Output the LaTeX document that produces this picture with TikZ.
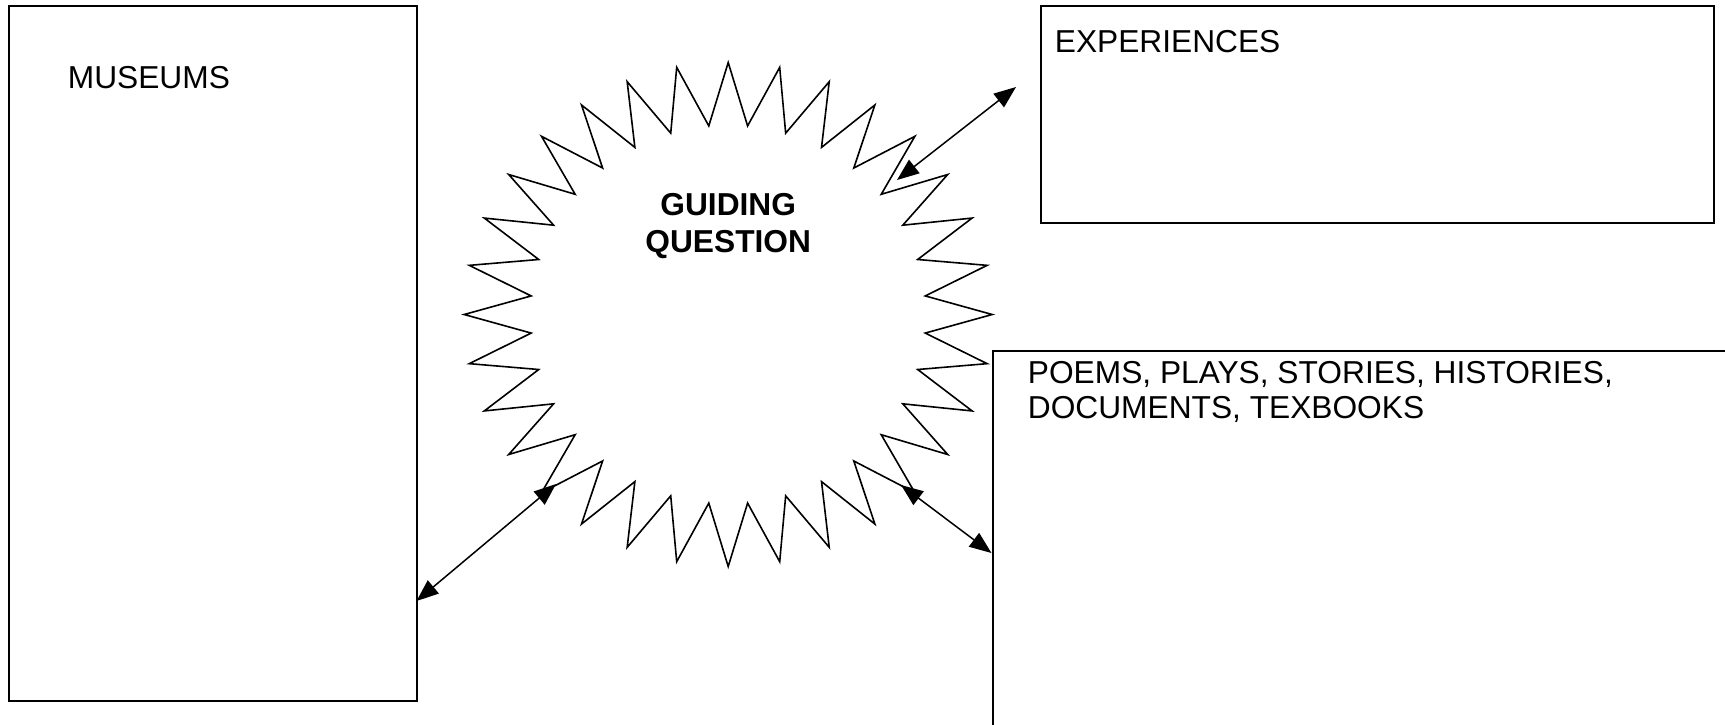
\documentclass[tikz,border=0pt]{standalone}
\usepackage{fontspec}
\setmainfont{Liberation Sans}
\usetikzlibrary{arrows.meta}
\tikzset{
  boxshape/.style={draw=black, line width=0.8pt, rectangle, inner sep=0pt, anchor=north west},
  lbl/.style={inner sep=0pt, anchor=base west, font=\fontsize{15.85}{17.6}\selectfont, align=left},
  qlbl/.style={inner sep=0pt, font=\bfseries\fontsize{15.85}{18.2}\selectfont, align=center},
  starline/.style={draw=black, line width=0.8pt, line join=miter},
  biarrow/.style={line width=0.75pt, {Triangle[length=11pt,width=8.5pt]}-{Triangle[length=11pt,width=8.5pt]}}
}
\begin{document}
\begin{tikzpicture}[x=0.5pt, y=-0.5pt]
\useasboundingbox (0,0) rectangle (1725,724);
\clip (0,0) rectangle (1725,724);
\fill[white] (0,0) rectangle (1725,724);

% boxes
\node[boxshape, minimum width=204pt, minimum height=347.5pt] (mus) at (8,5) {};
\node[boxshape, minimum width=336.5pt, minimum height=108.5pt] (exp) at (1040,5) {};
\node[boxshape, minimum width=380pt, minimum height=200pt] (poe) at (992,350) {};

% labels
\node[lbl] (musT) at (67.5,88) {MUSEUMS};
\node[lbl] (expT) at (1054.5,52) {EXPERIENCES};
\node[lbl, anchor=north west] (poeT) at (1027.5,360.5) {POEMS, PLAYS, STORIES, HISTORIES,\\DOCUMENTS, TEXBOOKS};

% starburst
\draw[starline] ({728.2+264},314.5)
  \foreach \k in {0,...,31} {
    -- ({728.2+198*cos(\k*11.25+5.625)},{314.5+189.5*sin(\k*11.25+5.625)})
    -- ({728.2+264*cos((\k+1)*11.25)},{314.5+252*sin((\k+1)*11.25)})
  } -- cycle;
\node[qlbl] (gq) at (728.2,226) {GUIDING\\QUESTION};

% arrow end points
\coordinate (sm) at (556,484);
\coordinate (mm) at (416.5,601);
\coordinate (se) at (897,180);
\coordinate (ee) at (1016,87);
\coordinate (sp) at (901,485);
\coordinate (pp) at (991.5,553);

\draw[biarrow] (sm) -- (mm);
\draw[biarrow] (se) -- (ee);
\draw[biarrow] (sp) -- (pp);
\end{tikzpicture}
\end{document}
